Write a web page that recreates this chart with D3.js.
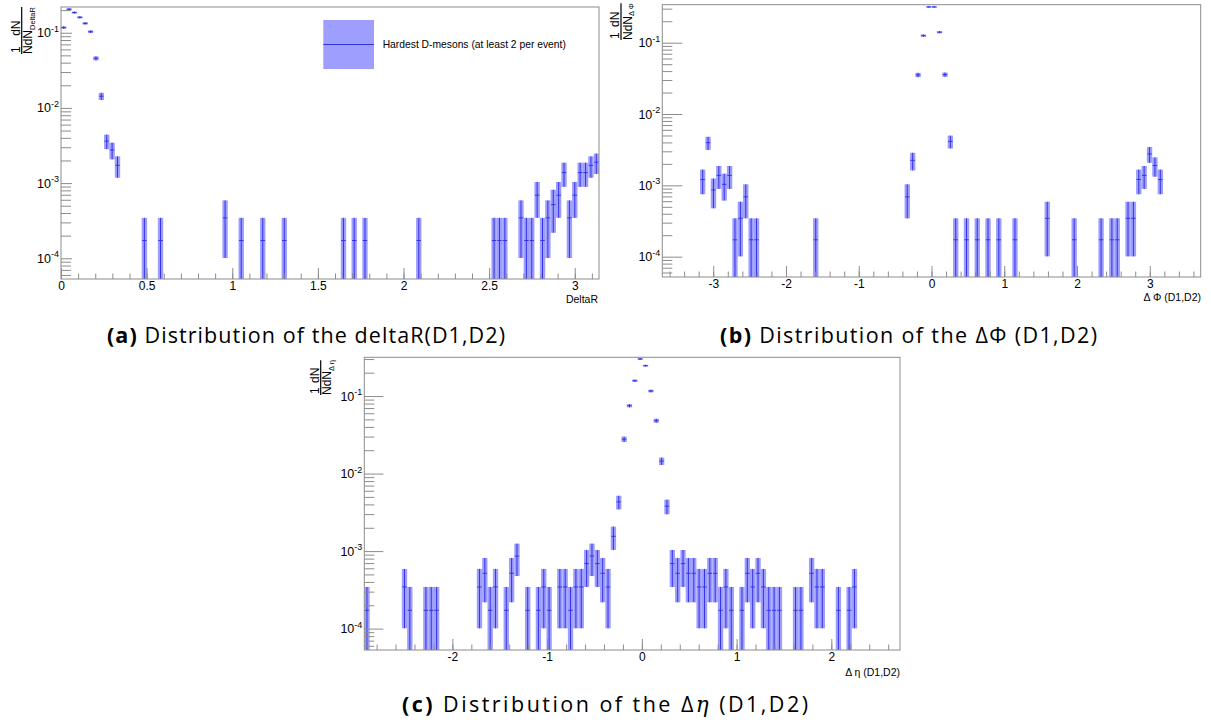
<!DOCTYPE html>
<html>
<head>
<meta charset="utf-8">
<script src="https://cdn.jsdelivr.net/npm/d3@7"></script>
<style>
  body { margin: 0; background: #fff; }
  svg text { font-family: "Liberation Sans", Arial, sans-serif; fill: #000; }
  .caption { font-family: "Open Sans", "Noto Sans", sans-serif; }
</style>
</head>
<body>
<div id="chart"></div>
<script>
"use strict"

/* Entries per bin (100 bins per histogram).
   The plotted value is entries / nPairs, the error box is sqrt(entries) / nPairs. */
let nPairs = 5800;

let deltaRCounts = [
  680, 1192, 1076, 930, 773, 599, 265, 83, 21, 16,
  10, 0, 0, 0, 0, 1, 0, 0, 1, 0,
  0, 0, 0, 0, 0, 0, 0, 0, 0, 0,
  2, 0, 0, 1, 0, 0, 0, 1, 0, 0,
  0, 1, 0, 0, 0, 0, 0, 0, 0, 0,
  0, 0, 1, 0, 1, 0, 1, 0, 0, 0,
  0, 0, 0, 0, 0, 0, 1, 0, 0, 0,
  0, 0, 0, 0, 0, 0, 0, 0, 0, 0,
  1, 1, 1, 0, 0, 2, 1, 1, 4, 1,
  2, 3, 4, 8, 2, 4, 8, 8, 10, 11
];

let deltaPhiCounts = [
  0, 0, 0, 0, 0, 0, 0, 7, 23, 5,
  8, 6, 8, 1, 2, 4, 1, 1, 0, 0,
  0, 0, 0, 0, 0, 0, 0, 0, 1, 0,
  0, 0, 0, 0, 0, 0, 0, 0, 0, 0,
  0, 0, 0, 0, 0, 4, 13, 205, 729, 1840,
  1840, 814, 207, 24, 1, 0, 1, 0, 1, 0,
  1, 0, 1, 0, 0, 1, 0, 0, 0, 0,
  0, 2, 0, 0, 0, 0, 1, 0, 0, 0,
  0, 1, 0, 1, 1, 0, 2, 2, 7, 8,
  16, 11, 7, 0, 0, 0, 0, 0, 0, 0
];

let deltaEtaCounts = [
  1, 0, 0, 0, 0, 0, 0, 2, 1, 0,
  0, 1, 1, 1, 0, 0, 0, 0, 0, 0,
  0, 2, 3, 1, 2, 0, 1, 3, 5, 0,
  1, 0, 1, 2, 1, 0, 2, 2, 1, 2,
  2, 4, 5, 4, 3, 2, 9, 25, 161, 435,
  914, 1741, 1428, 674, 279, 84, 22, 4, 3, 4,
  3, 3, 2, 2, 3, 3, 1, 2, 1, 0,
  1, 3, 2, 3, 2, 1, 1, 1, 0, 0,
  1, 1, 0, 3, 2, 2, 0, 0, 1, 0,
  1, 2, 0, 0, 0, 0, 0, 0, 0, 0
];

let deltaRRange = [0, Math.PI];
let deltaPhiRange = [-3.7, 3.7];
let deltaEtaRange = [-2.93, 2.725];

let deltaRTicks = [0, 0.5, 1, 1.5, 2, 2.5, 3];
let deltaPhiTicks = [-3, -2, -1, 0, 1, 2, 3];
let deltaEtaTicks = [-2, -1, 0, 1, 2];
let decadeTicks = [1e-4, 1e-3, 1e-2, 1e-1];

let legendLabel = "Hardest D-mesons (at least 2 per event)";

let boxFill = "#9e9eff";
let barStroke = "#3434e6";
let frameStroke = "#8c8c8c";

let svg = d3.select("#chart")
  .append("svg")
  .attr("width", 1211)
  .attr("height", 726);

svg.append("rect")
  .attr("width", 1211)
  .attr("height", 726)
  .attr("fill", "#fff");

let panels = [
  { id: "a", counts: deltaRCounts, range: deltaRRange, ticks: deltaRTicks, minorStep: 0.1,
    left: 61, right: 599, top: 7, bottom: 279, yDomain: [5.3e-5, 0.22], yMajorLen: 11,
    xTitle: "DeltaR", titleX: 598, titleY: 302.5,
    yTitle: { px: 21.7, py: 54, sub: "DeltaR" } },
  { id: "b", counts: deltaPhiCounts, range: deltaPhiRange, ticks: deltaPhiTicks, minorStep: 0.2,
    left: 662.3, right: 1200.7, top: 4.7, bottom: 277, yDomain: [5.19e-5, 0.341], yMajorLen: 20,
    xTitle: "\u0394 \u03a6 (D1,D2)", titleX: 1201, titleY: 301,
    yTitle: { px: 621, py: 40, sub: "\u0394 \u03a6" } },
  { id: "c", counts: deltaEtaCounts, range: deltaEtaRange, ticks: deltaEtaTicks, minorStep: 0.2,
    left: 364.3, right: 900, top: 357.3, bottom: 650, yDomain: [5.3e-5, 0.316], yMajorLen: 19,
    xTitle: "\u0394 \u03b7 (D1,D2)", titleX: 900, titleY: 676,
    yTitle: { px: 320.7, py: 395, sub: "\u0394 \u03b7" } }
];

function drawYTitle(t) {
  // rotated fraction  1/N dN/dN_x , bar lower end at (px, py)
  let g = svg.append("g")
    .attr("transform", "translate(" + t.px + "," + t.py + ") rotate(-90)");
  let den = g.append("text")
    .attr("x", 0)
    .attr("y", 10.5)
    .attr("font-size", 12);
  let firstN = den.append("tspan").text("N");
  den.append("tspan").text("dN");
  den.append("tspan").attr("dy", 2.5).attr("font-size", 7.5).text(t.sub);
  let total = den.node().getComputedTextLength();
  let nWidth = firstN.node().getComputedTextLength();
  g.append("line")
    .attr("x1", 0).attr("x2", total)
    .attr("y1", 0).attr("y2", 0)
    .attr("stroke", "#000")
    .attr("stroke-width", 1.2);
  g.append("text")
    .attr("x", nWidth / 2)
    .attr("y", -2)
    .attr("font-size", 12)
    .attr("text-anchor", "middle")
    .text("1");
  g.append("text")
    .attr("x", (nWidth + total) / 2 - 2)
    .attr("y", -2)
    .attr("font-size", 12)
    .attr("text-anchor", "middle")
    .text("dN");
}

function drawPanel(p) {
  let x = d3.scaleLinear().domain(p.range).range([p.left, p.right]);
  let y = d3.scaleLog().domain(p.yDomain).range([p.bottom, p.top]);
  let binWidth = (p.range[1] - p.range[0]) / p.counts.length;

  let bins = p.counts.map(function (n, i) {
    return {
      n: n,
      x0: p.range[0] + i * binWidth,
      x1: p.range[0] + (i + 1) * binWidth,
      value: n / nPairs,
      err: Math.sqrt(n) / nPairs
    };
  }).filter(b => b.n > 0);

  let clipId = "clip-" + p.id;
  svg.append("clipPath")
    .attr("id", clipId)
    .append("rect")
    .attr("x", p.left)
    .attr("y", p.top)
    .attr("width", p.right - p.left)
    .attr("height", p.bottom - p.top);

  let low = b => Math.max(b.value - b.err, p.yDomain[0] * 0.5);

  let marks = svg.append("g").attr("clip-path", "url(#" + clipId + ")");

  marks.selectAll("rect.err")
    .data(bins)
    .join("rect")
    .attr("class", "err")
    .attr("x", b => x(b.x0))
    .attr("width", b => x(b.x1) - x(b.x0))
    .attr("y", b => y(b.value + b.err))
    .attr("height", b => y(low(b)) - y(b.value + b.err))
    .attr("fill", boxFill);

  marks.selectAll("line.w")
    .data(bins)
    .join("line")
    .attr("class", "w")
    .attr("x1", b => x(b.x0) + 0.5)
    .attr("x2", b => x(b.x1) - 0.5)
    .attr("y1", b => y(b.value))
    .attr("y2", b => y(b.value))
    .attr("stroke", barStroke)
    .attr("stroke-width", 1);

  marks.selectAll("line.e")
    .data(bins)
    .join("line")
    .attr("class", "e")
    .attr("x1", b => x((b.x0 + b.x1) / 2))
    .attr("x2", b => x((b.x0 + b.x1) / 2))
    .attr("y1", b => y(b.value + b.err))
    .attr("y2", b => y(low(b)))
    .attr("stroke", barStroke)
    .attr("stroke-width", 1);

  // minor ticks
  let minor = d3.range(Math.ceil(p.range[0] / p.minorStep), Math.floor(p.range[1] / p.minorStep) + 1)
    .map(k => +(k * p.minorStep).toFixed(4));
  let xMinor = svg.append("g")
    .attr("transform", "translate(0," + p.bottom + ")")
    .call(d3.axisBottom(x).tickValues(minor).tickSize(-5.5).tickSizeOuter(0).tickFormat(""));
  xMinor.select(".domain").remove();
  xMinor.selectAll("line").attr("stroke", frameStroke);

  let xMajor = svg.append("g")
    .attr("transform", "translate(0," + p.bottom + ")")
    .call(d3.axisBottom(x).tickValues(p.ticks).tickSize(-11).tickSizeOuter(0)
      .tickPadding(2.5).tickFormat(d => String(d)));
  xMajor.select(".domain").remove();
  xMajor.selectAll("line").attr("stroke", frameStroke);
  xMajor.selectAll("text").attr("font-size", 12).attr("font-family", "Liberation Sans, Arial, sans-serif");

  let yMinorValues = [];
  for (let e = -5; e <= 0; e++) {
    for (let m = 2; m <= 9; m++) {
      let v = m * Math.pow(10, e);
      if (v > p.yDomain[0] && v < p.yDomain[1]) yMinorValues.push(v);
    }
  }
  let yMinor = svg.append("g")
    .attr("transform", "translate(" + p.left + ",0)")
    .call(d3.axisLeft(y).tickValues(yMinorValues).tickSize(-10).tickSizeOuter(0).tickFormat(""));
  yMinor.select(".domain").remove();
  yMinor.selectAll("line").attr("stroke", frameStroke);

  let yMajor = svg.append("g")
    .attr("transform", "translate(" + p.left + ",0)")
    .call(d3.axisLeft(y).tickValues(decadeTicks).tickSize(-p.yMajorLen).tickSizeOuter(0).tickFormat(""));
  yMajor.select(".domain").remove();
  yMajor.selectAll("line").attr("stroke", frameStroke);

  let labels = svg.append("g");
  decadeTicks.forEach(function (v) {
    let t = labels.append("text")
      .attr("x", p.left - 2)
      .attr("y", y(v) + 4.5)
      .attr("text-anchor", "end")
      .attr("font-size", 12.5);
    t.append("tspan").text("10");
    t.append("tspan")
      .attr("dy", -5.5)
      .attr("font-size", 9)
      .text(String(Math.round(Math.log10(v))));
  });

  svg.append("rect")
    .attr("x", p.left)
    .attr("y", p.top)
    .attr("width", p.right - p.left)
    .attr("height", p.bottom - p.top)
    .attr("fill", "none")
    .attr("stroke", frameStroke)
    .attr("stroke-width", 1);

  svg.append("text")
    .attr("x", p.titleX)
    .attr("y", p.titleY)
    .attr("text-anchor", "end")
    .attr("font-size", 10.5)
    .text(p.xTitle);

  drawYTitle(p.yTitle);
}

panels.forEach(drawPanel);

// legend of panel (a)
svg.append("rect")
  .attr("x", 323.3)
  .attr("y", 20)
  .attr("width", 50.7)
  .attr("height", 49)
  .attr("fill", boxFill);
svg.append("line")
  .attr("x1", 323.3).attr("x2", 374)
  .attr("y1", 44.5).attr("y2", 44.5)
  .attr("stroke", barStroke);
svg.append("text")
  .attr("x", 382.7)
  .attr("y", 48)
  .attr("font-size", 10.3)
  .text(legendLabel);

// sub-figure captions
let captions = [
  { tag: "(a)", parts: [" Distribution of the deltaR(D1,D2)"], x: 107, y: 343, width: 398 },
  { tag: "(b)", parts: [" Distribution of the \u0394\u03a6 (D1,D2)"], x: 720, y: 343, width: 377 },
  { tag: "(c)", parts: [" Distribution of the \u0394", "\u03b7", " (D1,D2)"], x: 402, y: 712, width: 406 }
];
captions.forEach(function (c) {
  let t = svg.append("text")
    .attr("class", "caption")
    .attr("x", c.x)
    .attr("y", c.y)
    .attr("font-size", 21.5)
    .attr("textLength", c.width)
    .attr("lengthAdjust", "spacing");
  t.append("tspan").attr("font-weight", "bold").text(c.tag);
  c.parts.forEach(function (s) {
    let sp = t.append("tspan").text(s);
    if (s === "\u03b7") sp.attr("font-style", "italic").attr("font-family", "DejaVu Serif, serif");
  });
});
</script>
</body>
</html>
